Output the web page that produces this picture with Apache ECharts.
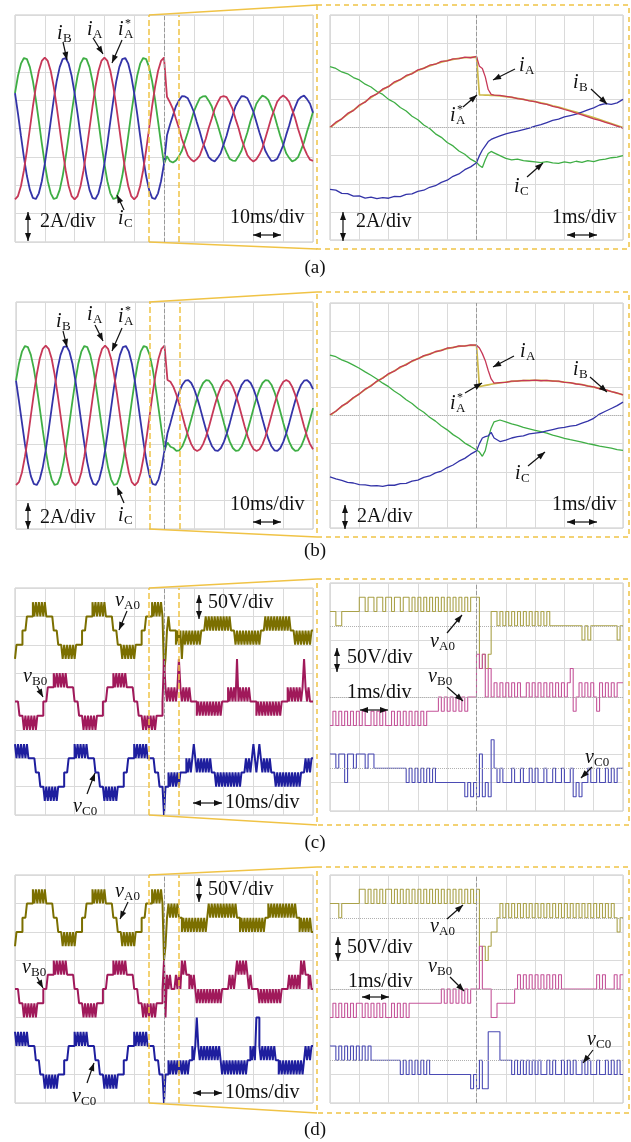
<!DOCTYPE html>
<html><head><meta charset="utf-8">
<script src="https://cdn.jsdelivr.net/npm/echarts@6/dist/echarts.min.js"></script>
<style>html,body{margin:0;padding:0;background:#fff;}#c{width:631px;height:1142px;}</style>
</head><body><div id="c"></div>
<script>
// ================= DATA =================
// Left current panels: one sample per ms, 0..100 ms (A)
const dtLeft = 1;
const aIA = [-5,-4.76,-4.05,-2.94,-1.55,0,1.55,2.94,4.05,4.76,5,4.76,4.05,2.94,1.55,0,-1.55,-2.94,-4.05,-4.76,
 -5,-4.76,-4.05,-2.94,-1.55,0,1.55,2.94,4.05,4.76,5,4.76,4.05,2.94,1.55,0,-1.55,-2.94,-4.05,-4.76,
 -5,-4.76,-4.05,-2.94,-1.55,0,1.55,2.94,4.05,4.76,5,
 2.24,1.84,1.38,0.69,0.04,-0.74,-1.32,-1.9,-2.17,
 -2.32,-2.16,-1.9,-1.33,-0.74,0.03,0.69,1.38,1.84,2.22,2.28,2.21,1.83,1.38,0.68,0.03,-0.74,-1.32,-1.89,-2.16,
 -2.33,-2.17,-1.84,-1.38,-0.68,0.02,0.74,1.32,1.89,2.17,2.32,2.16,1.88,1.33,0.73,-0.03,-0.69,-1.37,-1.84,-2.2,-2.28];
const aIB = [2.5,1.04,-0.52,-2.03,-3.35,-4.33,-4.89,-4.97,-4.57,-3.72,-2.5,-1.04,0.52,2.03,3.35,4.33,4.89,4.97,4.57,3.72,
 2.5,1.04,-0.52,-2.03,-3.35,-4.33,-4.89,-4.97,-4.57,-3.72,-2.5,-1.04,0.52,2.03,3.35,4.33,4.89,4.97,4.57,3.72,
 2.5,1.04,-0.52,-2.03,-3.35,-4.33,-4.89,-4.97,-4.57,-3.72,-2.5,
 -0.48,0.27,0.92,1.57,1.97,2.28,2.26,2.13,1.68,
 1.18,0.45,-0.21,-0.97,-1.51,-2.02,-2.22,-2.32,-2.07,-1.74,-1.12,-0.51,0.27,0.91,1.57,1.96,2.28,2.26,2.13,1.68,
 1.18,0.45,-0.27,-0.91,-1.57,-1.96,-2.28,-2.26,-2.13,-1.68,-1.18,-0.45,0.21,0.97,1.51,2.02,2.22,2.32,2.07,1.74,1.12];
const aIC = [2.5,3.72,4.57,4.97,4.89,4.33,3.35,2.03,0.52,-1.04,-2.5,-3.72,-4.57,-4.97,-4.89,-4.33,-3.35,-2.03,-0.52,1.04,
 2.5,3.72,4.57,4.97,4.89,4.33,3.35,2.03,0.52,-1.04,-2.5,-3.72,-4.57,-4.97,-4.89,-4.33,-3.35,-2.03,-0.52,1.04,
 2.5,3.72,4.57,4.97,4.89,4.33,3.35,2.03,0.52,-1.04,-2.5,
 -1.95,-2.3,-2.4,-2.25,-1.96,-1.57,-0.91,-0.27,0.45,
 1.18,1.68,2.13,2.26,2.28,1.96,1.57,0.91,0.27,-0.45,-1.18,-1.68,-2.13,-2.26,-2.28,-1.96,-1.57,-0.91,-0.27,0.51,
 1.12,1.74,2.07,2.32,2.22,2.02,1.51,0.97,0.21,-0.51,-1.12,-1.74,-2.07,-2.32,-2.22,-2.02,-1.51,-0.97,-0.21,0.45,1.18];
const bIA = [-4.9,-4.7,-4.02,-2.9,-1.57,0,1.52,2.9,4.02,4.7,4.92,4.7,4.02,2.9,1.52,0,-1.52,-2.9,-4.02,-4.7,
 -4.92,-4.7,-4.02,-2.9,-1.52,0,1.52,2.9,4.02,4.7,4.92,4.7,4.02,2.9,1.52,0,-1.52,-2.9,-4.02,-4.7,
 -4.92,-4.7,-4.02,-2.9,-1.52,0,1.52,2.9,4.02,4.7,4.92,
 2.5,2.38,2.02,1.47,0.77,0,-0.77,-1.47,-2.02,-2.38,-2.5,-2.38,-2.02,-1.47,-0.77,0,0.77,1.47,2.02,2.38,
 2.5,2.38,2.02,1.47,0.77,0,-0.77,-1.47,-2.02,-2.38,-2.5,-2.38,-2.02,-1.47,-0.77,0,0.77,1.47,2.02,2.38,
 2.5,2.38,2.02,1.47,0.77,0,-0.77,-1.47,-2.02,-2.38];
const bIB = [2.46,1.02,-0.51,-2.0,-3.3,-4.27,-4.82,-4.9,-4.5,-3.67,-2.46,-1.02,0.51,2.0,3.3,4.27,4.82,4.9,4.5,3.67,
 2.46,1.02,-0.51,-2.0,-3.3,-4.27,-4.82,-4.9,-4.5,-3.67,-2.46,-1.02,0.51,2.0,3.3,4.27,4.82,4.9,4.5,3.67,
 2.46,1.02,-0.51,-2.0,-3.3,-4.27,-4.82,-4.9,-4.5,-3.67,-2.46,
 -1.25,-0.52,0.26,1.02,1.67,2.17,2.45,2.49,2.29,1.86,1.25,0.52,-0.26,-1.02,-1.67,-2.17,-2.45,-2.49,-2.29,-1.86,
 -1.25,-0.52,0.26,1.02,1.67,2.17,2.45,2.49,2.29,1.86,1.25,0.52,-0.26,-1.02,-1.67,-2.17,-2.45,-2.49,-2.29,-1.86,
 -1.25,-0.52,0.26,1.02,1.67,2.17,2.45,2.49,2.29,1.86];
const bIC = [2.46,3.67,4.5,4.9,4.82,4.27,3.3,2.0,0.51,-1.02,-2.46,-3.67,-4.5,-4.9,-4.82,-4.27,-3.3,-2.0,-0.51,1.02,
 2.46,3.67,4.5,4.9,4.82,4.27,3.3,2.0,0.51,-1.02,-2.46,-3.67,-4.5,-4.9,-4.82,-4.27,-3.3,-2.0,-0.51,1.02,
 2.46,3.67,4.5,4.9,4.82,4.27,3.3,2.0,0.51,-1.02,-2.46,
 -1.9,-2.2,-2.29,-2.49,-2.45,-2.17,-1.67,-1.02,-0.26,0.52,1.25,1.86,2.29,2.49,2.45,2.17,1.67,1.02,0.26,-0.52,
 -1.25,-1.86,-2.29,-2.49,-2.45,-2.17,-1.67,-1.02,-0.26,0.52,1.25,1.86,2.29,2.49,2.45,2.17,1.67,1.02,0.26,-0.52,
 -1.25,-1.86,-2.29,-2.49,-2.45,-2.17,-1.67,-1.02,-0.26,0.52];

// Right current panels: time (ms) and currents (A)
const tR = [45,45.2,45.4,45.6,45.8,46,46.2,46.4,46.6,46.8,47,47.2,47.4,47.6,47.8,48,48.2,48.4,48.6,48.8,49,49.2,49.4,49.6,49.8,50,
 50.1,50.2,50.3,50.4,50.5,50.6,
 50.8,51,51.2,51.4,51.6,51.8,52,52.2,52.4,52.6,52.8,53,53.2,53.4,53.6,53.8,54,54.2,54.4,54.6,54.8,55];
const raIA = [0,0.38,0.6,1.0,1.2,1.6,1.8,2.2,2.38,2.74,2.9,3.25,3.4,3.7,3.82,4.1,4.2,4.43,4.5,4.7,4.74,4.88,4.9,5.0,4.96,5.05,
 4.35,4.2,3.6,2.7,2.35,2.3,
 2.28,2.22,2.16,2.06,2.0,1.9,1.84,1.72,1.64,1.5,1.42,1.28,1.16,1.02,0.9,0.76,0.62,0.5,0.36,0.24,0.1,-0.05];
const raRef = [0,0.31,0.63,0.94,1.24,1.55,1.84,2.13,2.41,2.68,2.94,3.19,3.42,3.64,3.85,4.05,4.22,4.38,4.52,4.65,4.76,4.84,4.91,4.96,4.99,5.0,
 2.32,2.31,2.3,2.3,2.29,2.28,
 2.25,2.2,2.14,2.07,2.0,1.92,1.84,1.75,1.66,1.55,1.45,1.33,1.21,1.09,0.96,0.83,0.7,0.56,0.42,0.28,0.14,0];
const raIC = [4.33,4.2,3.95,3.82,3.55,3.38,3.08,2.88,2.56,2.35,2.0,1.78,1.42,1.17,0.8,0.55,0.18,-0.07,-0.45,-0.7,-1.07,-1.31,-1.67,-1.9,-2.25,-2.48,
 -2.7,-2.85,-2.3,-1.85,-1.7,-1.8,
 -2.0,-2.2,-2.3,-2.25,-2.35,-2.4,-2.45,-2.5,-2.42,-2.52,-2.55,-2.45,-2.52,-2.4,-2.48,-2.35,-2.42,-2.3,-2.25,-2.15,-2.1,-2.0];
const raIB = [-4.4,-4.45,-4.68,-4.7,-4.88,-4.86,-5.02,-4.95,-5.06,-4.98,-5.03,-4.9,-4.92,-4.76,-4.72,-4.54,-4.46,-4.25,-4.14,-3.9,-3.75,-3.47,-3.3,-3.0,-2.8,-2.5,
 -2.0,-1.6,-1.3,-1.0,-0.85,-0.75,
 -0.6,-0.45,-0.35,-0.25,-0.15,-0.05,0.1,0.2,0.35,0.5,0.6,0.75,0.85,0.95,1.1,1.25,1.4,1.6,1.7,1.65,1.75,2.0];
const rbIA = [0.05,0.3,0.68,0.9,1.28,1.52,1.88,2.1,2.45,2.65,2.98,3.15,3.46,3.6,3.88,4.02,4.26,4.35,4.55,4.62,4.8,4.82,4.95,4.93,5.02,5.0,
 4.8,4.4,3.9,3.2,2.6,2.3,
 2.34,2.36,2.44,2.44,2.5,2.48,2.52,2.47,2.5,2.44,2.44,2.36,2.34,2.24,2.2,2.09,2.04,1.9,1.84,1.69,1.6,1.47];
const rbRef = [0,0.31,0.63,0.94,1.24,1.55,1.84,2.13,2.41,2.68,2.94,3.19,3.42,3.64,3.85,4.05,4.22,4.38,4.52,4.65,4.76,4.84,4.91,4.96,4.99,5.0,
 2.05,2.1,2.14,2.18,2.22,2.26,
 2.32,2.38,2.42,2.46,2.48,2.5,2.5,2.5,2.48,2.46,2.42,2.38,2.32,2.26,2.19,2.11,2.02,1.93,1.82,1.71,1.59,1.47];
const rbIC = [4.3,4.18,3.96,3.8,3.58,3.36,3.1,2.86,2.6,2.3,2.05,1.72,1.46,1.12,0.85,0.5,0.23,-0.12,-0.4,-0.75,-1.02,-1.36,-1.62,-1.96,-2.2,-2.45,
 -2.6,-2.9,-2.5,-1.6,-0.9,-0.45,
 -0.32,-0.45,-0.6,-0.7,-0.85,-0.95,-1.05,-1.15,-1.25,-1.4,-1.5,-1.62,-1.72,-1.8,-1.9,-2.0,-2.08,-2.18,-2.25,-2.32,-2.42,-2.48];
const rbIB = [-4.36,-4.5,-4.62,-4.75,-4.8,-4.92,-4.93,-5.0,-4.98,-5.04,-4.95,-4.96,-4.85,-4.82,-4.66,-4.6,-4.4,-4.3,-4.08,-3.95,-3.7,-3.52,-3.25,-3.05,-2.75,-2.52,
 -2.0,-1.6,-1.5,-1.45,-1.2,-1.6,
 -1.85,-1.75,-1.6,-1.5,-1.45,-1.3,-1.25,-1.2,-1.1,-1.0,-0.9,-0.85,-0.75,-0.7,-0.55,-0.4,-0.2,0.1,0.3,0.5,0.7,0.95];

// Pole voltages: each character is the converter level (4 = 0 V, one level = 25 V)
const VSTEP = 25;
const dtVLeft = 0.5;   // ms per character, 0..100 ms (chunks of 10 ms)
const dtVRight = 0.1;  // ms per character, 45..55 ms (chunks of 1 ms)
const cVA = ["23333444555565656565","65555544433323232323","23333444555565656565","65555544433323232323","23333444555565656565",
 "12454444343424343434","34343444545454545454","54545444343434343434","34343444545454545454","54545444343434343434"];
const cVB = ["44433323232323233334","44555565656565655555","44433323232323233334","44555565656565655555","44433323232323233334",
 "75454545457545454544","44343434343434343434","44454545474545454544","44343434343434343434","44454545454545754544"];
const cVC = ["65656565655555444333","23232323233334445555","65656565655555444333","23232323233334445555","65656565655555444333",
 "13343434343444454545","65454545454544434343","43434343434344454545","65456545454544434343","43434343434344454545"];
const dVA = ["23333444555565656565","65555544433323232323","23333444555565656565","65555544433323232323","23333444555565656565",
 "12454545454434343434","34343434345454545454","54545454544343434343","43434343445454545454","54545454544343434343"];
const dVB = ["44433323232323233334","44555565656565655555","44433323232323233334","44555565656565655555","44433323232323233334",
 "62545444545465655454","54343434343434343434","44445454565656565454","44443434343434343434","44445454545465655454"];
const dVC = ["65656565655555444333","23232323233334445555","65656565655555444333","23232323233334445555","65656565655555444333",
 "13343434343434343445","45754545454545454543","43434343434343434454","54775454545454544343","43434343434343454545"];
const rcVA = ["5544555555","6656656656","6566566565","6565656565","6565656566","6121255454","5454545454","5454544444","4444443434","4444444434"];
const rcVB = ["2323232323","2322323232","2323232323","2323333434","3434343444","7674645454","5454544545","4545454545","4563454545","4354545455"];
const rcVC = ["5545535545","5545544444","4444443434","3434343333","3333332323","2523264343","3343343343","4334334334","3342323343","3433434344"];
const rdVA = ["5554555555","6656565656","6565656565","6565656565","6565656565","6121233454","5454545454","5454545454","5454545454","5454545434"];
const rdVB = ["2323232323","3232323232","2323232333","3333333343","4343434344","4744422333","3334545454","5454545454","4444444444","4545444545"];
const rdVC = ["5545454545","4545444444","4444343434","3434333333","3333333323","2422666644","4434343434","3433434334","3434334343","3433434343"];
const chanOffset = {A: 125, B: 0, C: -125}; // V, vertical position of each scope channel

// ================= CHART =================
const SERIF = '"Liberation Serif","Times New Roman",serif';
const COL = {iA:'#c63858', iB:'#3434a8', iC:'#3fae45', ref:'#cdb94a',
  vAL:'#7b6f00', vBL:'#a0195a', vCL:'#1e1e9e', vAR:'#aaa24a', vBR:'#c5559a', vCR:'#4b4bb4'};
const YEL = '#f0c346';

const GRIDS = [[15,15,298,227],[330,15,293,225],[16,302,297,227],[330,303,293,225],
  [15,588,298,227],[330,583,293,228],[15,875,298,228],[330,875,293,228]];

const xAxes = GRIDS.map((g,i)=>({gridIndex:i,type:'value',min:i%2?45:0,max:i%2?55:100,interval:i%2?1:10,
  axisLine:{show:false},axisTick:{show:false},axisLabel:{show:false},
  splitLine:{show:true,lineStyle:{color:'#dadada',width:1}}}));
const yAxes = GRIDS.map((g,i)=>({gridIndex:i,type:'value',min:i<4?-8:-200,max:i<4?8:200,interval:i<4?2:50,
  axisLine:{show:false},axisTick:{show:false},axisLabel:{show:false},
  splitLine:{show:true,lineStyle:{color:'#dadada',width:1}}}));

function idx(vals, dt){ return vals.map((v,i)=>[i*dt, v]); }
function withT(t, vals){ return vals.map((v,i)=>[t[i], v]); }
function steps(chunks, t0, dt, off){
  const s = chunks.join(''); const out = [];
  for (let i=0;i<s.length;i++) out.push([t0+i*dt, off+(s.charCodeAt(i)-52)*VSTEP]);
  out.push([t0+s.length*dt, off+(s.charCodeAt(s.length-1)-52)*VSTEP]);
  return out;
}
function ml(items){ return {silent:true,symbol:['none','none'],label:{show:false},animation:false,data:items}; }
const yelDash = {color:YEL,type:'dashed',width:1.5};
const grayDash = {color:'#9a9a9a',type:'dashed',width:1};
const grayDot = {color:'#b0b0b0',type:'dotted',width:1};
const leftMarks = [{xAxis:45,lineStyle:yelDash},{xAxis:55,lineStyle:yelDash},{xAxis:50,lineStyle:grayDash}];

function line(gi, data, color, w, extra){
  return Object.assign({type:'line',xAxisIndex:gi,yAxisIndex:gi,data,symbol:'none',showSymbol:false,
    lineStyle:{color,width:w,join:'bevel',cap:'butt'},itemStyle:{color},animation:false,silent:true}, extra||{});
}
const series = [];
// (a) and (b) left
[[0,aIA,aIB,aIC],[2,bIA,bIB,bIC]].forEach(([g,A,B,C])=>{
  series.push(line(g, idx(C,dtLeft), COL.iC, 1.8, {markLine:ml(leftMarks)}));
  series.push(line(g, idx(B,dtLeft), COL.iB, 1.8));
  series.push(line(g, idx(A,dtLeft), COL.iA, 1.8));
});
// (a) and (b) right
[[1,raRef,raIA,raIB,raIC],[3,rbRef,rbIA,rbIB,rbIC]].forEach(([g,R,A,B,C])=>{
  series.push(line(g, withT(tR,R), COL.ref, 1.7, {markLine:ml([{xAxis:50,lineStyle:grayDash},{yAxis:0,lineStyle:grayDot}])}));
  series.push(line(g, withT(tR,C), COL.iC, 1.3));
  series.push(line(g, withT(tR,B), COL.iB, 1.3));
  series.push(line(g, withT(tR,A), COL.iA, 1.3));
});
// (c) and (d) left
[[4,cVA,cVB,cVC],[6,dVA,dVB,dVC]].forEach(([g,A,B,C])=>{
  series.push(line(g, steps(A,0,dtVLeft,chanOffset.A), COL.vAL, 2, {step:'end',markLine:ml(leftMarks)}));
  series.push(line(g, steps(B,0,dtVLeft,chanOffset.B), COL.vBL, 2, {step:'end'}));
  series.push(line(g, steps(C,0,dtVLeft,chanOffset.C), COL.vCL, 2, {step:'end'}));
});
// (c) and (d) right
[[5,rcVA,rcVB,rcVC],[7,rdVA,rdVB,rdVC]].forEach(([g,A,B,C])=>{
  series.push(line(g, steps(A,45,dtVRight,chanOffset.A), COL.vAR, 1.1, {step:'end',
    markLine:ml([{xAxis:50,lineStyle:grayDash},{yAxis:chanOffset.A,lineStyle:grayDot},{yAxis:chanOffset.B,lineStyle:grayDot},{yAxis:chanOffset.C,lineStyle:grayDot}])}));
  series.push(line(g, steps(B,45,dtVRight,chanOffset.B), COL.vBR, 1.1, {step:'end'}));
  series.push(line(g, steps(C,45,dtVRight,chanOffset.C), COL.vCR, 1.1, {step:'end'}));
});

// ---------- annotations ----------
const G = [];
function T(x,y,s,size,italic,align){
  G.push({type:'text',x,y,z:100,style:{text:s,fill:'#111',font:(italic?'italic ':'')+size+'px '+SERIF,
    textAlign:align||'left',textVerticalAlign:'middle',align:align||'left',verticalAlign:'middle'}});
}
function sym(x,y,main,sub,star){
  T(x,y,main,20,true);
  const w = main==='i'?6:9;
  T(x+w,y+5,sub,13,false);
  if(star) T(x+w+1,y-6,'*',12,false);
}
function head(x1,y1,x2,y2,L,W){
  const dx=x2-x1, dy=y2-y1, d=Math.hypot(dx,dy), ux=dx/d, uy=dy/d;
  const bx=x2-ux*L, by=y2-uy*L;
  return {type:'polygon',z:100,shape:{points:[[x2,y2],[bx-uy*W,by+ux*W],[bx+uy*W,by-ux*W]]},style:{fill:'#111'}};
}
function arrow(x1,y1,x2,y2,both){
  G.push({type:'line',z:100,shape:{x1,y1,x2,y2},style:{stroke:'#111',lineWidth:1.2}});
  G.push(head(x1,y1,x2,y2,8,3));
  if(both) G.push(head(x2,y2,x1,y1,8,3));
}
// yellow zoom frames
[[15,242,5,249],[302,529,292,537],[588,815,579,825],[875,1103,867,1113]].forEach(([T0,B0,y1,y2])=>{
  G.push({type:'line',z:50,shape:{x1:149,y1:T0,x2:317,y2:y1},style:{stroke:YEL,lineWidth:1.5}});
  G.push({type:'line',z:50,shape:{x1:149,y1:B0,x2:317,y2:y2},style:{stroke:YEL,lineWidth:1.5}});
  G.push({type:'rect',z:50,shape:{x:317,y:y1,width:312,height:y2-y1},style:{fill:'none',stroke:YEL,lineWidth:1.5,lineDash:[5,4]}});
});
// row (a)
sym(57,34,'i','B'); arrow(63,42,67,60);
sym(87,30,'i','A'); arrow(93,38,103,54);
sym(118,30,'i','A',true); arrow(122,40,112,63);
sym(118,219,'i','C'); arrow(124,210,117,195);
arrow(28,212,28,241,true); T(40,222,'2A/div',20);
T(230,218,'10ms/div',20); arrow(253,235,281,235,true);
sym(519,66,'i','A'); arrow(515,69,493,80);
sym(450,116,'i','A',true); arrow(463,107,477,95);
sym(573,83,'i','B'); arrow(591,89,607,104);
sym(514,187,'i','C'); arrow(527,177,543,163);
arrow(343,212,343,241,true); T(356,222,'2A/div',20);
T(552,218,'1ms/div',20); arrow(567,235,597,235,true);
T(315,268,'(a)',19,false,'center');
// row (b)
sym(56,322,'i','B'); arrow(63,331,67,347);
sym(87,315,'i','A'); arrow(95,325,103,341);
sym(118,317,'i','A',true); arrow(122,328,112,351);
sym(118,516,'i','C'); arrow(124,503,117,487);
arrow(28,503,28,529,true); T(40,518,'2A/div',20);
T(230,505,'10ms/div',20); arrow(253,522,281,522,true);
sym(520,352,'i','A'); arrow(514,356,493,367);
sym(450,404,'i','A',true); arrow(465,393,482,383);
sym(573,370,'i','B'); arrow(590,377,607,392);
sym(515,474,'i','C'); arrow(528,466,545,452);
arrow(345,505,345,529,true); T(357,517,'2A/div',20);
T(552,505,'1ms/div',20); arrow(567,522,597,522,true);
T(315,551,'(b)',19,false,'center');
// row (c)
sym(115,601,'v','A0'); arrow(127,611,119,630);
sym(23,677,'v','B0'); arrow(37,686,43,697);
sym(73,807,'v','C0'); arrow(87,794,95,773);
arrow(199,595,199,619,true); T(208,603,'50V/div',20);
arrow(193,803,222,803,true); T(225,803,'10ms/div',20);
sym(430,642,'v','A0'); arrow(447,633,462,615);
sym(428,677,'v','B0'); arrow(447,687,463,701);
sym(585,758,'v','C0'); arrow(592,767,581,778);
arrow(337,648,337,672,true); T(347,658,'50V/div',20);
T(347,693,'1ms/div',20); arrow(360,710,388,710,true);
T(315,843,'(c)',19,false,'center');
// row (d)
sym(115,892,'v','A0'); arrow(128,902,120,919);
sym(22,968,'v','B0'); arrow(37,977,43,988);
sym(72,1097,'v','C0'); arrow(87,1083,94,1063);
arrow(199,878,199,902,true); T(208,890,'50V/div',20);
arrow(193,1093,222,1093,true); T(225,1093,'10ms/div',20);
sym(430,927,'v','A0'); arrow(447,919,463,905);
sym(428,967,'v','B0'); arrow(450,977,464,991);
sym(587,1040,'v','C0'); arrow(593,1050,583,1063);
arrow(338,937,338,961,true); T(347,948,'50V/div',20);
T(348,982,'1ms/div',20); arrow(362,997,389,997,true);
T(315,1130,'(d)',19,false,'center');

const chart = echarts.init(document.getElementById('c'), null, {renderer:'canvas',width:631,height:1142});
chart.setOption({
  animation:false,
  backgroundColor:'#ffffff',
  grid: GRIDS.map(g=>({left:g[0],top:g[1],width:g[2],height:g[3],show:true,borderColor:'#c6c6c6',borderWidth:1,backgroundColor:'#ffffff'})),
  xAxis: xAxes, yAxis: yAxes, series,
  graphic: {elements: G}
});
</script></body></html>
